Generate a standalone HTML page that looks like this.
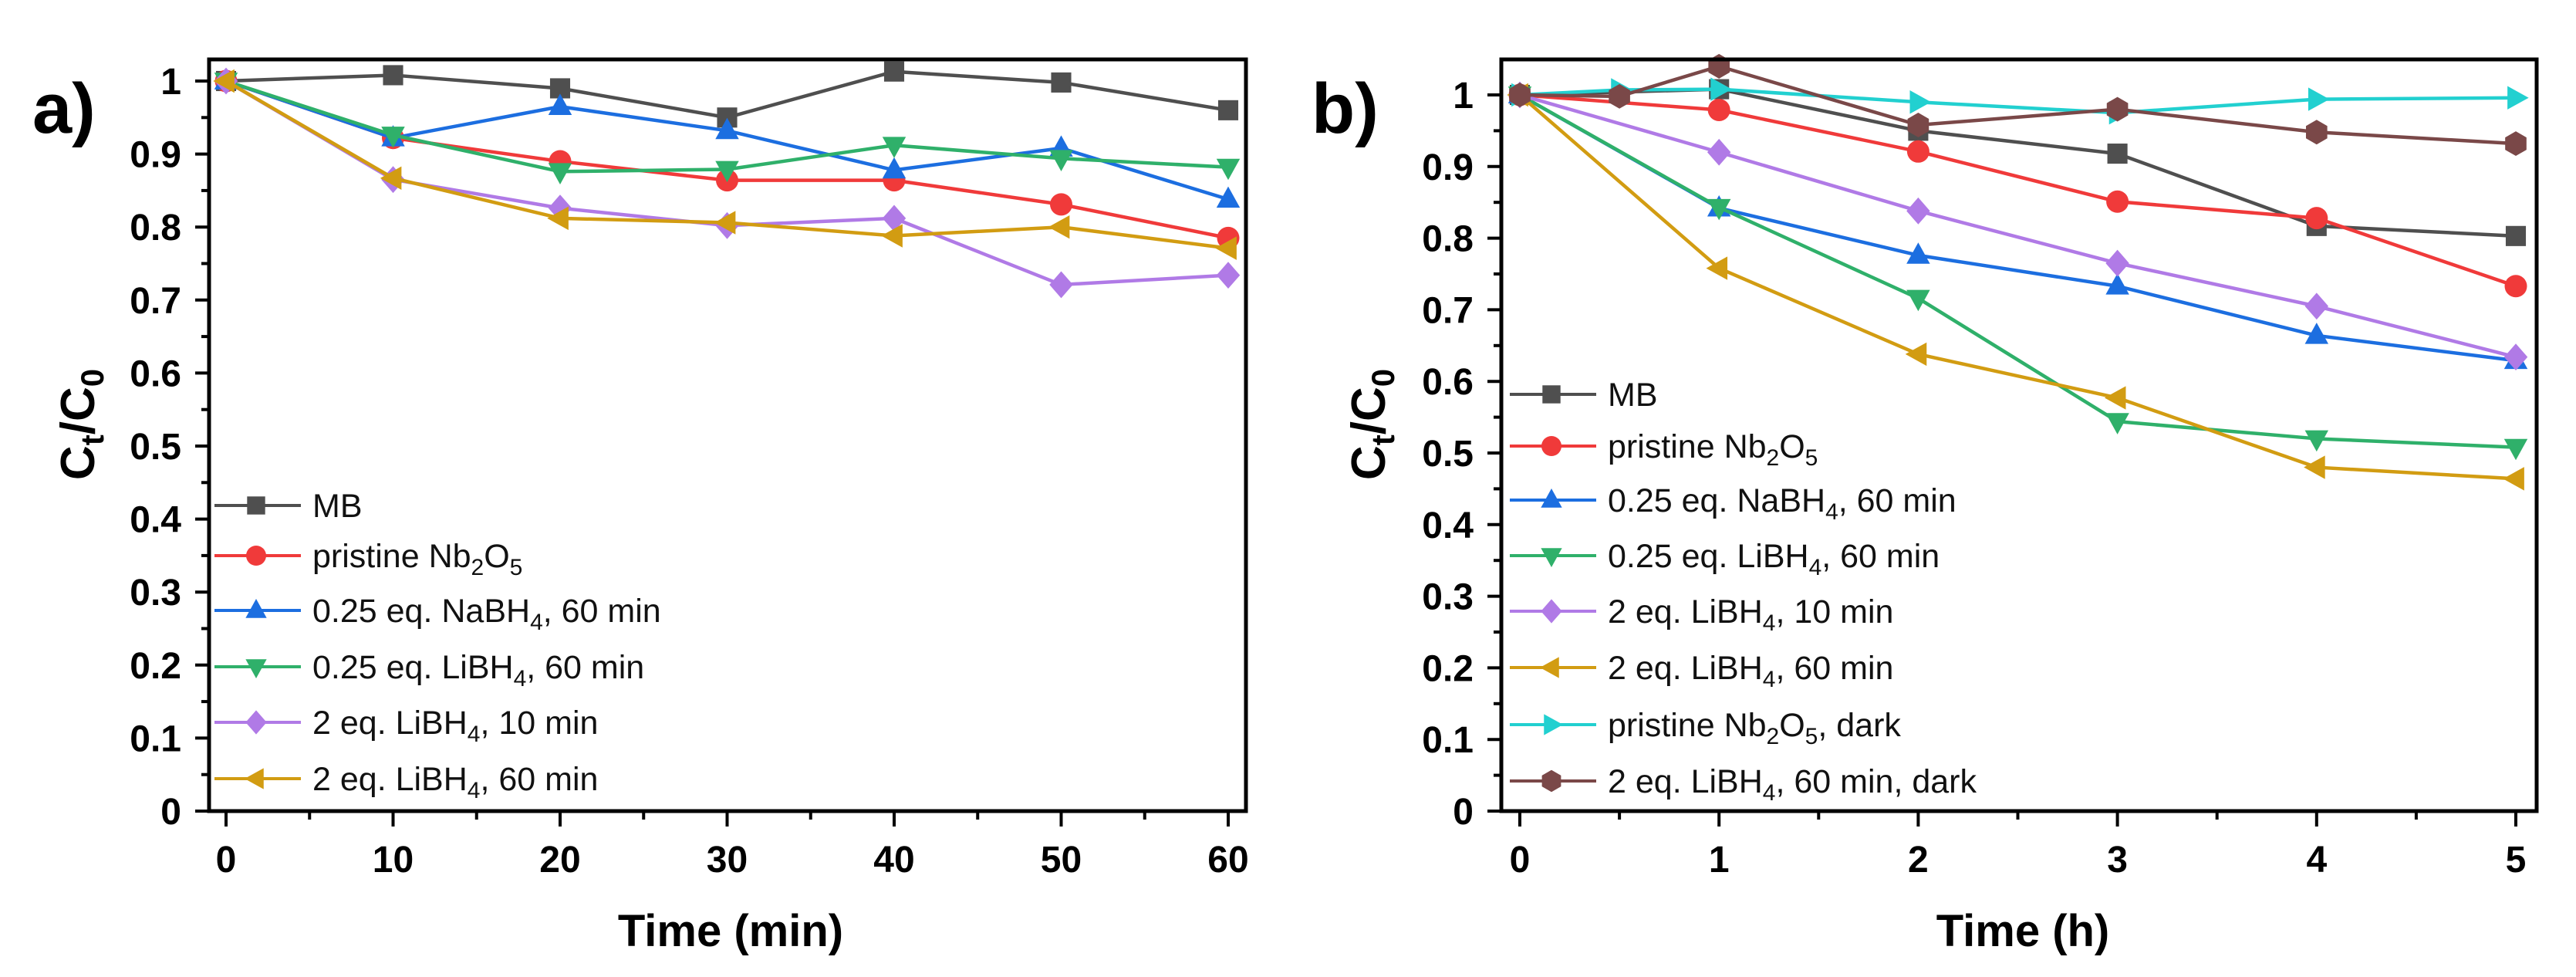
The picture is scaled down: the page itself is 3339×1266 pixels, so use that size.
<!DOCTYPE html>
<html><head><meta charset="utf-8"><style>
html,body{margin:0;padding:0;background:#fff}
svg{display:block}
text{font-family:"Liberation Sans",Arial,sans-serif}
</style></head><body>
<svg id="fig" width="3339" height="1266" viewBox="0 0 3339 1266" xmlns="http://www.w3.org/2000/svg">
<rect width="3339" height="1266" fill="#fff"/>
</svg>
<script>
// ---- Panel a data ----
const aX = [0, 10, 20, 30, 40, 50, 60];
const aMB = [1, 1.008, 0.99, 0.95, 1.013, 0.998, 0.96];
const aPristine = [1, 0.922, 0.89, 0.864, 0.864, 0.831, 0.785];
const aNaBH4 = [1, 0.922, 0.965, 0.932, 0.878, 0.908, 0.838];
const aLiBH4 = [1, 0.926, 0.876, 0.879, 0.912, 0.894, 0.882];
const a2eq10 = [1, 0.865, 0.826, 0.802, 0.812, 0.721, 0.734];
const a2eq60 = [1, 0.867, 0.812, 0.806, 0.788, 0.80, 0.771];
const aXTicks = [0, 10, 20, 30, 40, 50, 60];
// ---- Panel b data ----
const bX = [0, 1, 2, 3, 4, 5];
const bXDark = [0, 0.5, 1, 2, 3, 4, 5];
const bMB = [1, 1.008, 0.95, 0.918, 0.817, 0.803];
const bPristine = [1, 0.979, 0.921, 0.851, 0.828, 0.733];
const bNaBH4 = [1, 0.842, 0.776, 0.733, 0.664, 0.629];
const bLiBH4 = [1, 0.843, 0.716, 0.544, 0.52, 0.508];
const b2eq10 = [1, 0.92, 0.838, 0.765, 0.705, 0.634];
const b2eq60 = [1, 0.758, 0.638, 0.577, 0.48, 0.464];
const bPristineDark = [1, 1.007, 1.008, 0.99, 0.975, 0.994, 0.996];
const b2eq60Dark = [1, 0.998, 1.04, 0.958, 0.98, 0.948, 0.932];
const bXTicks = [0, 1, 2, 3, 4, 5];
const yTicks = [0, 0.1, 0.2, 0.3, 0.4, 0.5, 0.6, 0.7, 0.8, 0.9, 1];
const yTickLabels = ["0","0.1","0.2","0.3","0.4","0.5","0.6","0.7","0.8","0.9","1"];

const NS = "http://www.w3.org/2000/svg";
const svg = document.getElementById('fig');
function mk(tag, attrs, parent){
  const e = document.createElementNS(NS, tag);
  for (const k in attrs) e.setAttribute(k, attrs[k]);
  (parent||svg).appendChild(e);
  return e;
}
const COL = {mb:'#4f4f4f', red:'#f03a3a', blue:'#1c6ee0', green:'#2fb06a', purple:'#b07ae6', gold:'#d29c12', cyan:'#22d0d0', brown:'#7a4848'};

function marker(g, type, cx, cy, color, s){
  let e;
  if (type==='square') e = mk('rect',{x:cx-s*0.9,y:cy-s*0.9,width:s*1.8,height:s*1.8,fill:color},g);
  else if (type==='circle') e = mk('circle',{cx:cx,cy:cy,r:s,fill:color},g);
  else {
    let pts;
    if (type==='up') pts=[[0,-1.15],[1.05,0.75],[-1.05,0.75]];
    else if (type==='down') pts=[[0,1.15],[1.05,-0.75],[-1.05,-0.75]];
    else if (type==='left') pts=[[-1.15,0],[0.75,-1.05],[0.75,1.05]];
    else if (type==='right') pts=[[1.15,0],[-0.75,-1.05],[-0.75,1.05]];
    else if (type==='diamond') pts=[[0,-1.2],[1.05,0],[0,1.2],[-1.05,0]];
    else if (type==='hex'){pts=[];for(let i=0;i<6;i++){const a=Math.PI/6+i*Math.PI/3;pts.push([Math.cos(a)*1.1,Math.sin(a)*1.1]);}}
    e = mk('polygon',{points:pts.map(p=>(cx+p[0]*s)+','+(cy+p[1]*s)).join(' '),fill:color},g);
  }
  return e;
}

function panel(cfg){
  const g = mk('g',{});
  
  
  const xs = v => cfg.x0px + (v - 0) * (cfg.x1px - cfg.x0px) / cfg.xmax;
  const ys = v => cfg.y0px - v * (cfg.y0px - cfg.y1px);
  cfg.series.forEach((s,si)=>{
    const sg = mk('g',{},g);
    
    
    const pl = mk('polyline',{points:s.x.map((xv,i)=>xs(xv)+','+ys(s.y[i])).join(' '),fill:'none',stroke:s.color,'stroke-width':4.5,'stroke-linejoin':'round'},sg);
    
    
    s.x.forEach((xv,i)=>{
      const m = marker(sg, s.m, xs(xv), ys(s.y[i]), s.color, 14.5);
      
      
    });
  });
  const fr = mk('rect',{x:cfg.left,y:77,width:cfg.right-cfg.left,height:1051-77,fill:'none',stroke:'#000','stroke-width':5},g);
  
  
  const yax = mk('g',{},g);
  
  
  yTicks.forEach((v,i)=>{
    const y = ys(v);
    mk('line',{x1:cfg.left-18,x2:cfg.left,y1:y,y2:y,stroke:'#000','stroke-width':4},yax);
    const t = mk('text',{x:cfg.left-36,y:y+17,'text-anchor':'end','font-size':48,'font-weight':'bold',fill:'#000'},yax);
    t.textContent = yTickLabels[i];
    
    
    const ym = ys(v+0.05);
    if (ym > 80) mk('line',{x1:cfg.left-10,x2:cfg.left,y1:ym,y2:ym,stroke:'#000','stroke-width':4},yax);
  });
  const xax = mk('g',{},g);
  
  
  cfg.xticks.forEach((v,i)=>{
    const x = xs(v);
    mk('line',{x1:x,x2:x,y1:1051,y2:1071,stroke:'#000','stroke-width':4},xax);
    const t = mk('text',{x:x,y:1130,'text-anchor':'middle','font-size':48,'font-weight':'bold',fill:'#000'},xax);
    t.textContent = String(v);
    
    
    if (i < cfg.xticks.length-1){
      const xm = xs((v + cfg.xticks[i+1])/2);
      mk('line',{x1:xm,x2:xm,y1:1051,y2:1062,stroke:'#000','stroke-width':4},xax);
    }
  });
  const xt = mk('text',{x:cfg.xTitleX,y:1226,'text-anchor':'middle','font-size':58,'font-weight':'bold',fill:'#000'},g);
  xt.textContent = cfg.xTitle;
  
  
  const yt = mk('text',{x:0,y:0,'text-anchor':'middle','font-size':62,'font-weight':'bold',fill:'#000',transform:'translate('+cfg.yTitleX+',550) rotate(-90)'},g);
  yt.innerHTML = 'C<tspan font-size="42" dy="12">t</tspan><tspan dy="-12">/C</tspan><tspan font-size="42" dy="12">0</tspan>';
  
  
  const pl = mk('text',{x:cfg.labelX,y:172,'font-size':92,'font-weight':'bold',fill:'#000'},g);
  pl.textContent = cfg.label;
  
  
  const lg = mk('g',{},g);
  
  
  cfg.series.forEach((s,i)=>{
    const y = cfg.legY[i];
    const eg = mk('g',{},lg);
    
    
    mk('line',{x1:cfg.legX,x2:cfg.legX+112,y1:y,y2:y,stroke:s.color,'stroke-width':4},eg);
    marker(eg, s.m, cfg.legX+54, y, s.color, 13);
    const t = mk('text',{x:cfg.legX+127,y:y+15,'font-size':43,fill:'#111'},eg);
    t.innerHTML = s.label;
  });
}

const sub = n => '<tspan font-size="30" dy="10">'+n+'</tspan><tspan dy="-10">';
const lbl = {
  mb:'MB',
  pr:'pristine Nb'+sub(2)+'O</tspan>'+sub(5)+'</tspan>',
  na:'0.25 eq. NaBH'+sub(4)+', 60 min</tspan>',
  li:'0.25 eq. LiBH'+sub(4)+', 60 min</tspan>',
  e10:'2 eq. LiBH'+sub(4)+', 10 min</tspan>',
  e60:'2 eq. LiBH'+sub(4)+', 60 min</tspan>',
  prd:'pristine Nb'+sub(2)+'O</tspan>'+sub(5)+', dark</tspan>',
  e60d:'2 eq. LiBH'+sub(4)+', 60 min, dark</tspan>'
};

panel({name:'panel-a', left:271, right:1615, x0px:293, x1px:1592, xmax:60, y0px:1051, y1px:105,
  xticks:aXTicks, xTitle:'Time (min)', xTitleX:947, yTitleX:122, label:'a)', labelX:42,
  legX:278, legY:[655,720,791,864,936,1009],
  series:[
    {key:'mb',x:aX,y:aMB,color:COL.mb,m:'square',label:lbl.mb},
    {key:'pristine',x:aX,y:aPristine,color:COL.red,m:'circle',label:lbl.pr},
    {key:'nabh4',x:aX,y:aNaBH4,color:COL.blue,m:'up',label:lbl.na},
    {key:'libh4',x:aX,y:aLiBH4,color:COL.green,m:'down',label:lbl.li},
    {key:'2eq-10min',x:aX,y:a2eq10,color:COL.purple,m:'diamond',label:lbl.e10},
    {key:'2eq-60min',x:aX,y:a2eq60,color:COL.gold,m:'left',label:lbl.e60}
  ]});

panel({name:'panel-b', left:1946, right:3288, x0px:1970, x1px:3261, xmax:5, y0px:1051, y1px:123,
  xticks:bXTicks, xTitle:'Time (h)', xTitleX:2622, yTitleX:1795, label:'b)', labelX:1700,
  legX:1957, legY:[511,578,648,720,792,865,939,1012],
  series:[
    {key:'mb',x:bX,y:bMB,color:COL.mb,m:'square',label:lbl.mb},
    {key:'pristine',x:bX,y:bPristine,color:COL.red,m:'circle',label:lbl.pr},
    {key:'nabh4',x:bX,y:bNaBH4,color:COL.blue,m:'up',label:lbl.na},
    {key:'libh4',x:bX,y:bLiBH4,color:COL.green,m:'down',label:lbl.li},
    {key:'2eq-10min',x:bX,y:b2eq10,color:COL.purple,m:'diamond',label:lbl.e10},
    {key:'2eq-60min',x:bX,y:b2eq60,color:COL.gold,m:'left',label:lbl.e60},
    {key:'pristine-dark',x:bXDark,y:bPristineDark,color:COL.cyan,m:'right',label:lbl.prd},
    {key:'2eq-60min-dark',x:bXDark,y:b2eq60Dark,color:COL.brown,m:'hex',label:lbl.e60d}
  ]});
</script>
</body></html>
